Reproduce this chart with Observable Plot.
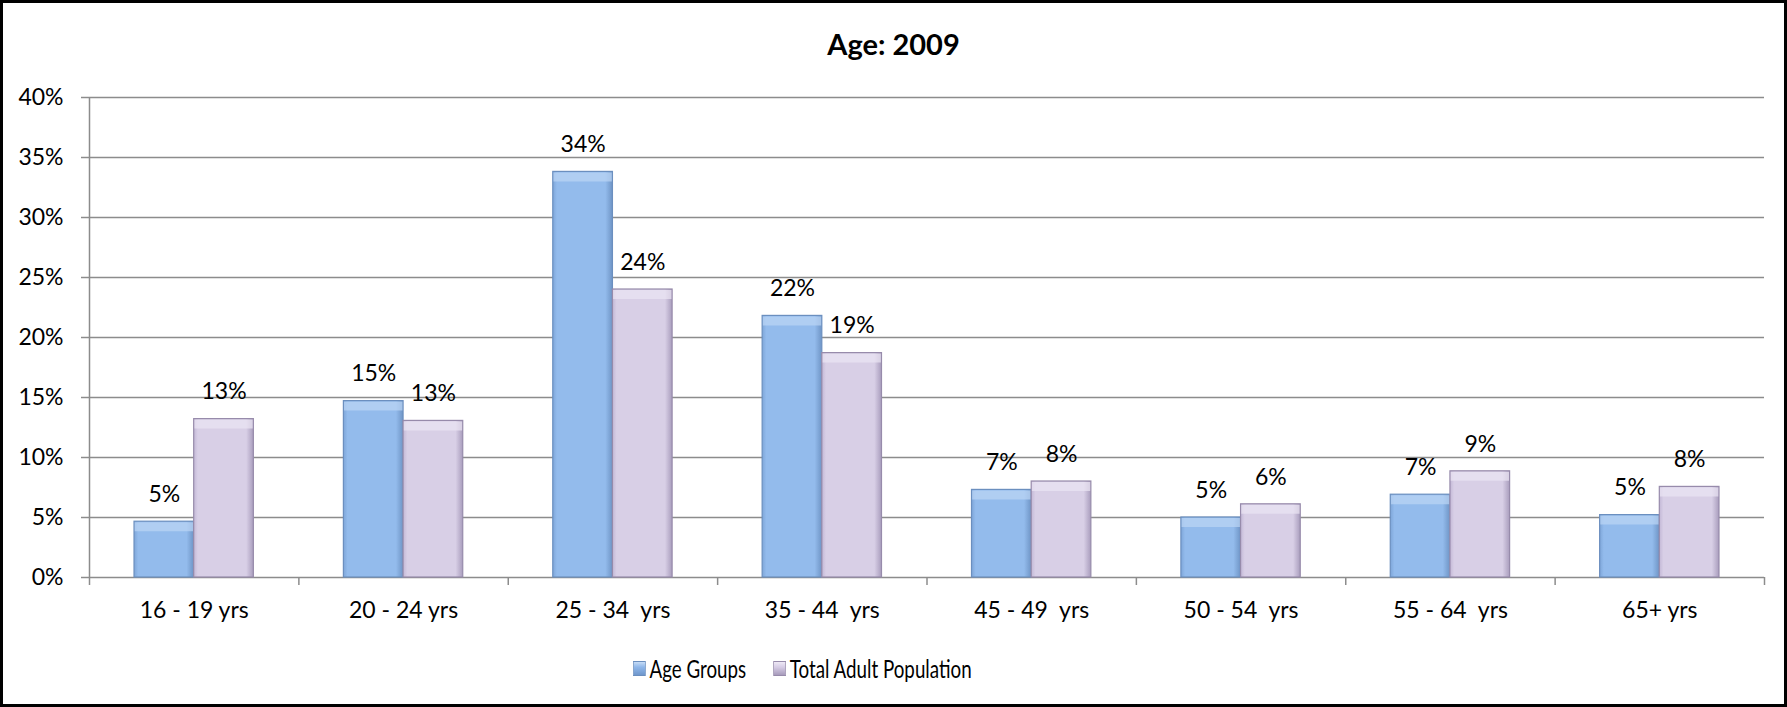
<!DOCTYPE html>
<html>
<head>
<meta charset="utf-8">
<script src="https://cdn.jsdelivr.net/npm/d3@7"></script>
<script src="https://cdn.jsdelivr.net/npm/@observablehq/plot@0.6"></script>
<style>
  body { margin: 0; background: #fff; }
  #wrap { position: relative; width: 1787px; height: 707px; overflow: hidden; font-family: Lato, "Open Sans", sans-serif; color: #000; background: #fff; }
  #border { position: absolute; left: 0; top: 0; right: 0; bottom: 0; border: 3px solid #000; box-sizing: border-box; pointer-events: none; }
  #title { position: absolute; left: 0; top: 26px; width: 1787px; text-align: center; font-weight: bold; font-size: 29px; line-height: 36px; }
  #chart { position: absolute; left: 0; top: 70px; }
  #legend { position: absolute; left: 633px; top: 652px; display: flex; align-items: center; font-size: 25px; line-height: 32px; white-space: nowrap; transform: scaleX(0.75); transform-origin: 0 50%; }
  #legend .item { display: flex; align-items: center; }
  #legend .sw { width: 17px; height: 15px; margin-right: 5px; box-sizing: border-box; }
  #chart svg text { white-space: pre; }
</style>
</head>
<body>
<div id="wrap">
  <div id="title">Age: 2009</div>
  <div id="chart"></div>
  <div id="legend"></div>
  <div id="border"></div>
</div>
<script>
// ---- data ----
const categories = ["16 - 19 yrs", "20 - 24 yrs", "25 - 34  yrs", "35 - 44  yrs", "45 - 49  yrs", "50 - 54  yrs", "55 - 64  yrs", "65+ yrs"];
const seriesNames = ["Age Groups", "Total Adult Population"];
const ageGroups = [4.65, 14.7, 33.8, 21.8, 7.3, 5.0, 6.9, 5.2];
const totalAdultPopulation = [13.2, 13.05, 24.0, 18.7, 8.0, 6.1, 8.85, 7.55];
const yTicks = [0, 5, 10, 15, 20, 25, 30, 35, 40];

// ---- styling ----
const seriesStyle = [
  {grad: "gBlue", top: "#bcd6f5", outline: "#6b8fbf", swatch: "linear-gradient(#c6dcf6, #8fb7ea 40%, #6f97cc)"},
  {grad: "gPurple", top: "#ebe5f3", outline: "#978bab", swatch: "linear-gradient(#eee9f5, #d6cce5 40%, #a79bbb)"}
];
const gridColor = "#8c8c8c";
const groupInset = 0.215;                 // gap on each side of a category's bar pair (fraction of band)
const barWidth = (1 - 2 * groupInset) / 2;

// ---- table built from the arrays ----
const valuesBySeries = [ageGroups, totalAdultPopulation];
const rows = [];
categories.forEach((cat, i) => {
  valuesBySeries.forEach((vals, s) => {
    const x1 = i + groupInset + s * barWidth;
    rows.push({category: cat, series: seriesNames[s], s, value: vals[i], x1, x2: x1 + barWidth});
  });
});

const barMarks = [];
seriesStyle.forEach((st, s) => {
  const data = rows.filter(d => d.s === s);
  barMarks.push(
    Plot.rectY(data, {x1: "x1", x2: "x2", y1: 0, y2: "value", fill: `url(#${st.grad})`}),
    Plot.ruleY(data, {x1: "x1", x2: "x2", y: "value", dy: 5, stroke: st.top, strokeWidth: 9, strokeOpacity: 0.7}),
    Plot.rectY(data, {x1: "x1", x2: "x2", y1: 0, y2: "value", fill: "none", stroke: st.outline, strokeWidth: 1.2})
  );
});

const chart = Plot.plot({
  width: 1787,
  height: 570,
  marginTop: 27,
  marginLeft: 89,
  marginRight: 23,
  marginBottom: 63,
  x: {domain: [0, categories.length], axis: null},
  y: {domain: [0, 40], axis: null},
  style: {fontFamily: "Lato, 'Open Sans', sans-serif", fontSize: "23px", color: "#000", background: "transparent", overflow: "visible"},
  marks: [
    Plot.ruleY(yTicks, {stroke: gridColor, strokeWidth: 1.5}),
    Plot.ruleX([0], {y1: 0, y2: 40, stroke: gridColor, strokeWidth: 1.5}),
    Plot.axisY({ticks: yTicks, tickSize: 8, tickPadding: 18, tickFormat: d => d + "%", label: null, stroke: gridColor, strokeWidth: 1.5, fill: "#000", fontSize: 23}),
    Plot.axisX({ticks: d3.range(0, categories.length + 1), tickSize: 8, tickFormat: () => "", label: null, stroke: gridColor, strokeWidth: 1.5}),
    Plot.axisX({ticks: categories.map((c, i) => i + 0.5), tickSize: 0, tickPadding: 24, tickFormat: d => categories[Math.floor(d)], label: null, fill: "#000", fontSize: 23}),
    ...barMarks,
    Plot.text(rows, {x: d => (d.x1 + d.x2) / 2, y: "value", text: d => Math.round(d.value) + "%", dy: -27, fontSize: 23, fill: "#000"})
  ]
});

// gradients for the bevelled bars
const svgNS = "http://www.w3.org/2000/svg";
const defs = document.createElementNS(svgNS, "defs");
defs.innerHTML = `
  <linearGradient id="gBlue" x1="0" x2="1" y1="0" y2="0">
    <stop offset="0" stop-color="#7ea6d9"/>
    <stop offset="0.07" stop-color="#93bbec"/>
    <stop offset="0.88" stop-color="#93bbec"/>
    <stop offset="1" stop-color="#6f95c6"/>
  </linearGradient>
  <linearGradient id="gPurple" x1="0" x2="1" y1="0" y2="0">
    <stop offset="0" stop-color="#c3b8d6"/>
    <stop offset="0.07" stop-color="#d8cfe6"/>
    <stop offset="0.88" stop-color="#d8cfe6"/>
    <stop offset="1" stop-color="#a99dbd"/>
  </linearGradient>`;
chart.insertBefore(defs, chart.firstChild);
document.getElementById("chart").appendChild(chart);

// legend
const legend = document.getElementById("legend");
seriesNames.forEach((name, s) => {
  const item = document.createElement("div");
  item.className = "item";
  item.style.marginRight = s === 0 ? "36px" : "0";
  const sw = document.createElement("span");
  sw.className = "sw";
  sw.style.background = seriesStyle[s].swatch;
  sw.style.border = "1px solid " + seriesStyle[s].outline;
  const label = document.createElement("span");
  label.textContent = name;
  item.appendChild(sw);
  item.appendChild(label);
  legend.appendChild(item);
});
</script>
</body>
</html>
